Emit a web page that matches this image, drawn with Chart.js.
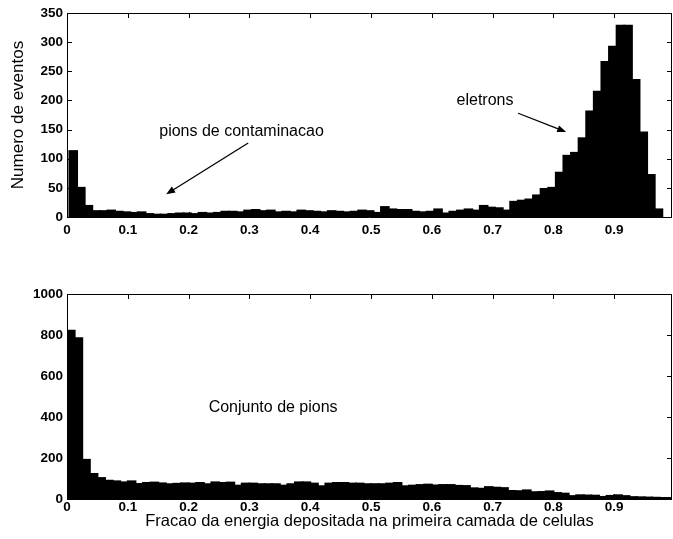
<!DOCTYPE html>
<html><head><meta charset="utf-8">
<script src="https://cdn.jsdelivr.net/npm/chart.js@4.4.0/dist/chart.umd.min.js"></script>
<style>
html,body{margin:0;padding:0;background:#fff;}
#wrap{position:relative;width:673px;height:539px;overflow:hidden;}
.box{position:absolute;left:0;width:673px;}
</style></head><body>
<div id="wrap">
<div class="box" style="top:0;height:245px"><canvas id="c1"></canvas></div>
<div class="box" style="top:270px;height:269px"><canvas id="c2"></canvas></div>
</div>
<script>
// ---- data ----
const binWidth = 0.0125;
const topBinStart = 0.004;
const bottomBinStart = 0.0;
const electronSampleCounts = [113,50,19,10,10,11,9,8,7,8,5,4,4,5,6,6,5,7,6,7,
  9,9,8,11,12,10,11,8,9,8,11,10,9,8,10,9,8,9,11,10,
  7,17,13,12,12,9,8,9,13,6,9,11,13,11,19,16,15,11,26,28,
  30,37,48,50,76,105,110,135,181,215,266,292,328,328,235,145,72,13];
const pionSampleCounts = [821,784,191,122,102,89,86,81,86,73,78,80,76,72,74,76,75,78,72,81,
  78,80,65,75,75,72,72,72,65,72,81,81,75,62,75,78,78,75,75,72,
  72,72,75,78,62,65,68,70,66,68,68,64,63,52,50,58,55,53,39,38,
  42,33,34,37,29,26,14,18,17,16,10,15,18,14,9,8,7,6,5,5];
const xTickValues = [0,0.1,0.2,0.3,0.4,0.5,0.6,0.7,0.8,0.9];
const topYTickValues = [0,50,100,150,200,250,300,350];
const bottomYTickValues = [0,200,400,600,800,1000];
const xTitle = 'Fracao da energia depositada na primeira camada de celulas';
const yTitle = 'Numero de eventos';
const topNotes = [
  {text:'pions de contaminacao', x:0.287, y:147, ax1:0.298, ay1:127, ax2:0.163, ay2:39},
  {text:'eletrons', x:0.6875, y:200, ax1:0.742, ay1:178, ax2:0.821, ay2:146}
];
const bottomNotes = [
  {text:'Conjunto de pions', x:0.339, y:445}
];

// ---- helpers ----
const FONT = '"Liberation Sans", Arial, Helvetica, sans-serif';
function toPoints(counts, start){
  return counts.map((c,i)=>({x: start + binWidth*(i+0.5), y: c}));
}

const framePlugin = {
  id: 'frameTicks',
  afterDraw(chart, args, opts){
    const {ctx, chartArea:a, scales:{x, y}} = chart;
    ctx.save();
    ctx.strokeStyle = '#000';
    ctx.lineWidth = 1;
    ctx.beginPath();
    ctx.rect(Math.round(a.left)+0.5, Math.round(a.top)+0.5, Math.round(a.right-a.left)-1, Math.round(a.bottom-a.top));
    ctx.stroke();
    const L = 5;
    ctx.beginPath();
    xTickValues.forEach(v=>{
      const px = Math.round(x.getPixelForValue(v))+0.5;
      ctx.moveTo(px, a.bottom); ctx.lineTo(px, a.bottom-L);
      ctx.moveTo(px, a.top); ctx.lineTo(px, a.top+L);
    });
    opts.yTicks.forEach(v=>{
      const py = Math.round(y.getPixelForValue(v))+0.5;
      ctx.moveTo(a.left, py); ctx.lineTo(a.left+L, py);
      ctx.moveTo(a.right, py); ctx.lineTo(a.right-L, py);
    });
    ctx.stroke();
    // notes
    (opts.notes||[]).forEach(n=>{
      ctx.fillStyle = '#000';
      ctx.font = '16px ' + FONT;
      ctx.textAlign = 'center';
      ctx.textBaseline = 'middle';
      ctx.fillText(n.text, x.getPixelForValue(n.x), y.getPixelForValue(n.y));
      if (n.ax1 !== undefined){
        const x1 = x.getPixelForValue(n.ax1), y1 = y.getPixelForValue(n.ay1);
        const x2 = x.getPixelForValue(n.ax2), y2 = y.getPixelForValue(n.ay2);
        const ang = Math.atan2(y2-y1, x2-x1);
        const hl = 9, hw = 3.5;
        ctx.lineWidth = 1.3;
        ctx.beginPath();
        ctx.moveTo(x1,y1);
        ctx.lineTo(x2 - hl*Math.cos(ang)*0.8, y2 - hl*Math.sin(ang)*0.8);
        ctx.stroke();
        ctx.beginPath();
        ctx.moveTo(x2,y2);
        ctx.lineTo(x2 - hl*Math.cos(ang) + hw*Math.sin(ang), y2 - hl*Math.sin(ang) - hw*Math.cos(ang));
        ctx.lineTo(x2 - hl*Math.cos(ang) - hw*Math.sin(ang), y2 - hl*Math.sin(ang) + hw*Math.cos(ang));
        ctx.closePath();
        ctx.fill();
      }
    });
    ctx.restore();
  }
};

function makeChart(id, counts, start, yMax, yTicks, notes, cfg){
  return new Chart(document.getElementById(id), {
    type: 'bar',
    data: { datasets: [{ data: toPoints(counts, start), backgroundColor: '#000', borderWidth: 0,
      inflateAmount: 1, barPercentage: 1, categoryPercentage: 1 }] },
    options: {
      responsive: true, maintainAspectRatio: false, animation: false,
      layout: { padding: { top: cfg.padTop, left: 0, right: 1, bottom: 0 } },
      plugins: { legend: {display:false}, tooltip: {enabled:false},
        frameTicks: { yTicks: yTicks, notes: notes } },
      scales: {
        x: {
          type: 'linear', min: 0, max: 0.995, offset: false,
          grid: { display: false, drawTicks: false },
          border: { display: false },
          afterBuildTicks: s => { s.ticks = xTickValues.map(v=>({value:v})); },
          afterFit: s => { s.height = cfg.xHeight; s.paddingLeft = 0; s.paddingRight = 0; },
          ticks: { padding: cfg.xPad, color: '#000', maxRotation: 0, autoSkip: false,
            font: { family: FONT, size: 13.5, weight: 'bold' },
            callback: v => String(Math.round(v*10)/10) },
          title: { display: cfg.xTitle, text: xTitle, color: '#000',
            font: { family: FONT, size: 16.5 }, padding: { top: 0, bottom: 8 } }
        },
        y: {
          min: 0, max: yMax,
          grid: { display: false, drawTicks: false },
          border: { display: false },
          afterBuildTicks: s => { s.ticks = yTicks.map(v=>({value:v})); },
          afterFit: s => { s.width = 67; s.paddingTop = 0; s.paddingBottom = 0; },
          ticks: { padding: 4, color: '#000', autoSkip: false,
            font: { family: FONT, size: 13.5, weight: 'bold' },
            callback: v => String(v) },
          title: { display: cfg.yTitle, text: yTitle, color: '#000',
            font: { family: FONT, size: 17 }, padding: { top: 8, bottom: 0 } }
        }
      }
    },
    plugins: [framePlugin]
  });
}

makeChart('c1', electronSampleCounts, topBinStart, 350, topYTickValues, topNotes,
  { padTop: 13, xHeight: 28, xPad: 5, xTitle: false, yTitle: true });
makeChart('c2', pionSampleCounts, bottomBinStart, 1000, bottomYTickValues, bottomNotes,
  { padTop: 24, xHeight: 40, xPad: 0, xTitle: true, yTitle: false });
</script>
</body></html>
